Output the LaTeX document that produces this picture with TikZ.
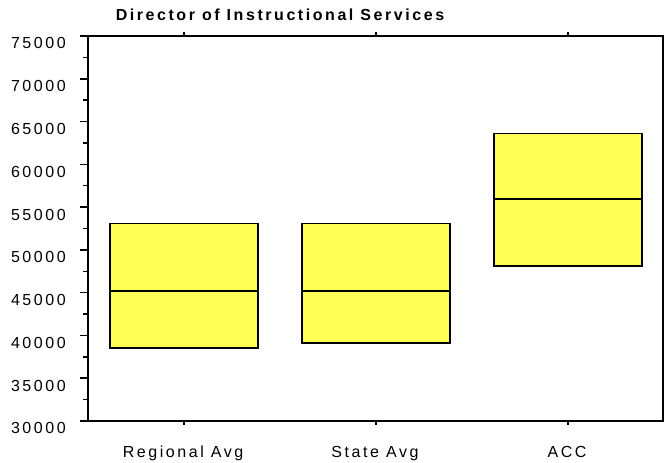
\documentclass[tikz,border=0pt]{standalone}
\usepackage{fontspec}
\newfontfamily\chartfont[LetterSpace=16]{Liberation Sans}
\definecolor{boxyellow}{RGB}{255,255,85}

\begin{document}
\begin{tikzpicture}[x=0.75pt,y=-0.75pt,
    axisline/.style={line width=1.5pt},
    tickline/.style={line width=1.1pt},
    salarybox/.style={draw,line width=1.2pt,fill=boxyellow},
    ylab/.style={anchor=north east,inner sep=0pt,font=\chartfont\fontsize{12}{14}\selectfont},
    xlab/.style={anchor=north,inner sep=0pt,font=\chartfont\fontsize{12}{14}\selectfont}]
  \useasboundingbox (0,0) rectangle (665,463);

  % title
  \node[inner sep=0pt,font=\chartfont\bfseries\fontsize{12}{14}\selectfont] (title) at (280,15)
    {Director of Instructional Services};

  % y axis ticks and labels (8.5556 px per 1000)
  \foreach \v in {30,35,...,75} {
    \pgfmathsetmacro\ty{36+(75-\v)*8.5556}
    \draw[tickline] (80,\ty) -- (88,\ty);
    \node[ylab] (y\v) at (66,\ty+1.5) {\v000};
  }
  \foreach \v in {32.5,37.5,...,72.5} {
    \pgfmathsetmacro\ty{36+(75-\v)*8.5556}
    \draw[tickline] (83,\ty) -- (88,\ty);
  }

  % boxes: centre / low / median / high (thousands)
  \foreach \cx/\lo/\me/\hi in {184/38.5/45.2/53.1,376/39.15/45.2/53.1,568/48.1/55.95/63.6} {
    \draw[salarybox] (\cx-74,{36+(75-\lo)*8.5556}) rectangle (\cx+74,{36+(75-\hi)*8.5556});
    \draw[line width=1.2pt] (\cx-74,{36+(75-\me)*8.5556}) -- (\cx+74,{36+(75-\me)*8.5556});
    \draw[tickline] (\cx,36) -- (\cx,32);
    \draw[tickline] (\cx,421) -- (\cx,425);
  }

  % frame
  \draw[axisline] (88,36) rectangle (663,421);

  % category labels
  \node[xlab] (regional) at (183,446) {Regional Avg};
  \node[xlab] (state) at (375,446) {State Avg};
  \node[xlab] (acc) at (567,446) {ACC};
\end{tikzpicture}
\end{document}
